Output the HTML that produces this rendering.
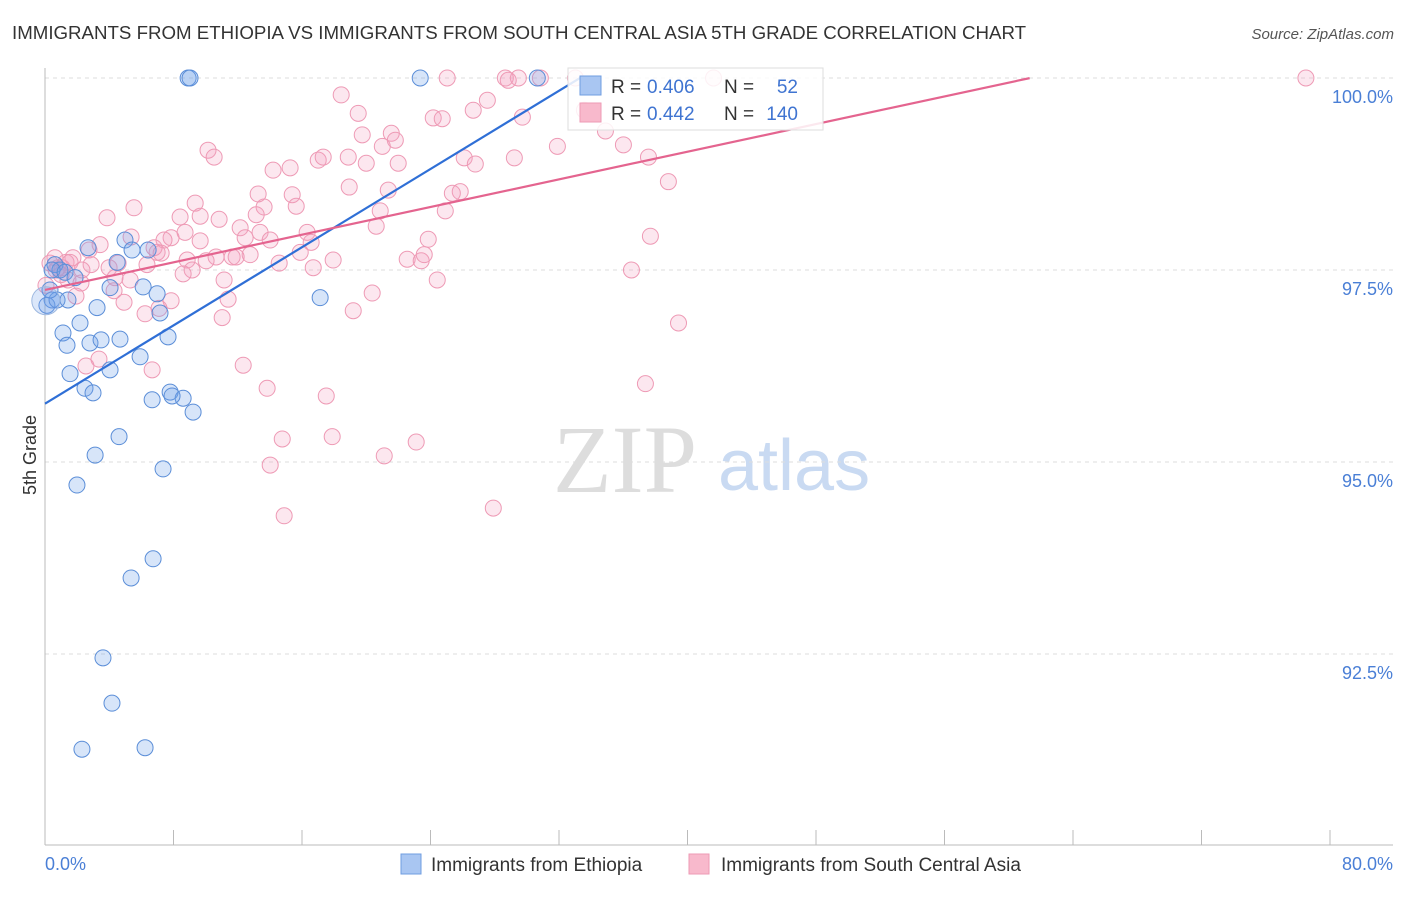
<!DOCTYPE html>
<html><head><meta charset="utf-8"><style>
body{margin:0;background:#fff;font-family:"Liberation Sans",sans-serif;}
</style></head><body>
<svg id="chart" width="1406" height="892" xmlns="http://www.w3.org/2000/svg" style="font-family:'Liberation Sans',sans-serif">
<text x="12" y="39" font-size="18.7" fill="#333">IMMIGRANTS FROM ETHIOPIA VS IMMIGRANTS FROM SOUTH CENTRAL ASIA 5TH GRADE CORRELATION CHART</text>
<text x="1394" y="39" font-size="15" fill="#555" font-style="italic" text-anchor="end">Source: ZipAtlas.com</text>
<g>
<text x="553" y="492" font-size="96" font-family="'Liberation Serif',serif" fill="#ddd">ZIP</text>
<text x="718" y="490" font-size="72" fill="#c9daf2">atlas</text>
</g>
<g id="grid"></g>
<g id="pts"></g>
<g id="lines"></g>
<text x="36" y="455" font-size="18" fill="#333" transform="rotate(-90 36 455)" text-anchor="middle">5th Grade</text>
<text x="45" y="870" font-size="18" fill="#4a7fd6">0.0%</text>
<text x="1393" y="870" font-size="18" fill="#4a7fd6" text-anchor="end">80.0%</text>
<g>
<rect x="568" y="68" width="255" height="62" fill="#fff" fill-opacity="0.85" stroke="#ddd"/>
<rect x="580" y="76" width="21" height="19" fill="#a9c6f2" stroke="#6f9de0"/>
<rect x="580" y="103" width="21" height="19" fill="#f8b9cc" stroke="#ee9ab5"/>
<text x="611" y="93" font-size="19" fill="#333">R =</text>
<text x="647" y="93" font-size="19" fill="#3f74d1">0.406</text>
<text x="724" y="93" font-size="19" fill="#333">N =</text>
<text x="798" y="93" font-size="19" fill="#3f74d1" text-anchor="end">52</text>
<text x="611" y="120" font-size="19" fill="#333">R =</text>
<text x="647" y="120" font-size="19" fill="#3f74d1">0.442</text>
<text x="724" y="120" font-size="19" fill="#333">N =</text>
<text x="798" y="120" font-size="19" fill="#3f74d1" text-anchor="end">140</text>
</g>
<g>
<rect x="401" y="854" width="20" height="20" fill="#a9c6f2" stroke="#6f9de0"/>
<text x="431" y="871" font-size="19" fill="#333">Immigrants from Ethiopia</text>
<rect x="689" y="854" width="20" height="20" fill="#f8b9cc" stroke="#ee9ab5"/>
<text x="721" y="871" font-size="19" fill="#333">Immigrants from South Central Asia</text>
</g>
</svg>
<script>
const yTicks=[100,97.5,95,92.5];
const yTickLabels=["100.0%","97.5%","95.0%","92.5%"];
const xTicks=[0,8,16,24,32,40,48,56,64,72,80];
const blueX=[8.91,9.03,23.36,30.65,0.62,0.93,0.44,0.12,0.75,1.43,2.68,4.98,6.42,4.49,5.42,4.05,6.11,6.98,7.16,3.24,2.18,1.12,1.37,2.80,3.49,4.67,7.66,5.92,4.05,1.56,2.49,2.99,6.67,7.79,8.60,7.91,9.22,4.61,3.12,1.99,7.35,17.13,6.73,5.36,3.61,4.17,2.30,6.23,0.44,1.25,1.87,0.31];
const blueY=[100,100,100,100,97.57,97.50,97.11,97.04,97.11,97.11,97.79,97.89,97.76,97.60,97.76,97.27,97.28,97.19,96.94,97.01,96.81,96.68,96.52,96.55,96.59,96.60,96.63,96.37,96.20,96.15,95.96,95.90,95.81,95.91,95.83,95.86,95.65,95.33,95.09,94.70,94.91,97.14,93.74,93.49,92.45,91.86,91.26,91.28,97.50,97.47,97.40,97.24];
const pinkX=[78.5,25.04,28.66,29.47,30.84,33.02,41.62,28.84,18.44,19.50,26.66,27.54,24.17,24.73,29.72,33.58,34.89,36.01,37.57,31.90,29.22,26.10,19.75,21.56,21.81,21.00,20.00,18.88,17.01,17.32,15.26,10.15,10.53,14.20,21.99,15.39,18.94,21.37,25.85,25.36,24.92,20.87,20.62,15.64,13.64,13.15,13.27,9.35,8.41,9.66,10.84,5.54,3.86,12.15,13.39,16.32,16.57,15.89,17.94,16.70,14.58,12.77,11.65,11.90,10.65,10.03,8.85,9.16,8.60,7.85,6.98,7.41,6.79,5.36,3.43,2.74,1.74,1.31,0.81,1.00,1.43,2.24,2.87,3.99,4.36,4.30,4.92,1.93,4.55,6.35,22.55,23.42,23.61,23.86,24.42,36.51,37.69,38.81,39.44,37.38,19.19,20.37,11.40,11.03,7.85,7.10,6.23,11.15,12.34,13.83,17.51,17.88,14.77,14.02,14.89,21.12,23.11,27.91,3.36,2.55,6.67,0.06,0.31,0.69,0.62,1.06,1.56,2.30,5.30,7.23,8.72,9.66,12.46,14.02,26.79];
const pinkY=[100,100,100,100,100,100,100,99.97,99.78,99.54,99.58,99.71,99.48,99.47,99.49,99.58,99.31,99.13,98.97,99.11,98.96,98.96,99.26,99.28,99.19,99.11,98.89,98.97,98.93,98.97,98.83,99.06,98.97,98.80,98.89,98.48,98.58,98.54,98.52,98.50,98.27,98.27,98.07,98.33,98.32,98.22,98.49,98.37,98.19,98.20,98.16,98.31,98.18,98.05,97.99,97.99,97.86,97.73,97.63,97.53,97.59,97.70,97.67,97.67,97.67,97.62,97.63,97.50,97.45,97.92,97.73,97.89,97.79,97.93,97.83,97.76,97.66,97.60,97.53,97.44,97.37,97.33,97.57,97.53,97.40,97.23,97.08,97.16,97.59,97.57,97.64,97.62,97.70,97.90,97.37,97.50,97.94,98.65,96.81,96.02,96.97,97.20,97.12,96.88,97.10,97.00,96.93,97.37,96.26,95.96,95.86,95.33,95.30,94.96,94.30,95.08,95.26,94.40,96.34,96.25,96.20,97.30,97.59,97.50,97.66,97.53,97.60,97.50,97.37,97.72,97.99,97.88,97.92,97.89,98.88];
const blueLine=[95.76,0.1273,0,33.3];
const pinkLine=[97.24,0.045,0,61.3];

const NS="http://www.w3.org/2000/svg";
const xs=v=>45+v/80*1285;
const ys=v=>78+(100-v)/2.5*192;
function mk(tag,attrs,parent){const e=document.createElementNS(NS,tag);for(const k in attrs)e.setAttribute(k,attrs[k]);parent.appendChild(e);return e;}
const grid=document.getElementById('grid');
yTicks.forEach((t,i)=>{
  const l=mk('line',{x1:45,x2:1393,y1:ys(t),y2:ys(t),stroke:'#ddd','stroke-dasharray':'4,4'},grid);
  
  
  const tx=mk('text',{x:1393,y:ys(t)+25,'font-size':18,fill:'#4a7fd6','text-anchor':'end'},grid);
  tx.textContent=yTickLabels[i];
  
  
});
const ax=mk('line',{x1:45,x2:45,y1:68,y2:845,stroke:'#bbb'},grid);


const bx=mk('line',{x1:45,x2:1393,y1:845,y2:845,stroke:'#bbb'},grid);


xTicks.forEach(t=>{
  const l=mk('line',{x1:xs(t),x2:xs(t),y1:830,y2:845,stroke:'#bbb'},grid);
  
  
});
const pts=document.getElementById('pts');
pinkX.forEach((x,i)=>{
  const c=mk('circle',{cx:xs(x),cy:ys(pinkY[i]),r:8,fill:'rgba(244,160,190,0.25)',stroke:'#ee9ab5','stroke-width':1},pts);
  
  
});
blueX.forEach((x,i)=>{
  const c=mk('circle',{cx:xs(x),cy:ys(blueY[i]),r:8,fill:'rgba(110,160,235,0.28)',stroke:'#5b8ed8','stroke-width':1},pts);
  
  
});
const big=mk('circle',{cx:xs(0.05),cy:ys(97.1),r:14,fill:'rgba(110,160,235,0.25)',stroke:'#9db8e0'},pts);


const lines=document.getElementById('lines');
[[blueLine,'#2f6fd6','trend-line-ethiopia'],[pinkLine,'#e4648f','trend-line-sca']].forEach(([L,col,name])=>{
  const l=mk('line',{x1:xs(L[2]),y1:ys(L[0]+L[1]*L[2]),x2:xs(L[3]),y2:ys(L[0]+L[1]*L[3]),stroke:col,'stroke-width':2.2},lines);
  
  
});
</script>
</body></html>
